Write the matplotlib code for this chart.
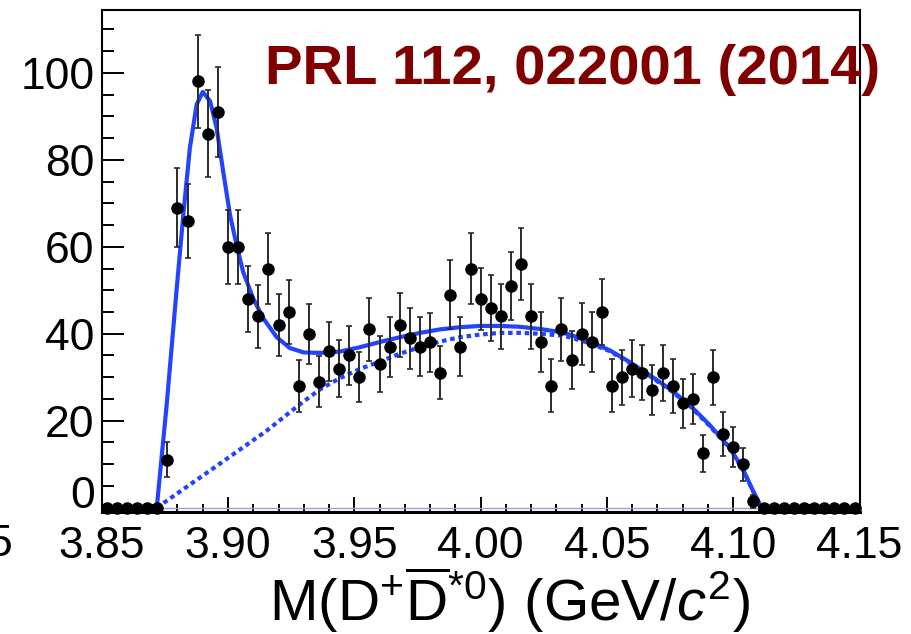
"""M(D+ D*0bar) spectrum with fit, PRL 112, 022001 (2014)."""
import numpy as np
import matplotlib
matplotlib.use('Agg')
import matplotlib.pyplot as plt
from matplotlib.ticker import MultipleLocator, FuncFormatter

plt.rcParams['font.family'] = 'Liberation Sans'
plt.rcParams['mathtext.fontset'] = 'custom'
plt.rcParams['mathtext.rm'] = 'Liberation Sans'
plt.rcParams['mathtext.it'] = 'Liberation Sans:italic'

# histogram: 75 bins of 4 MeV between 3.85 and 4.15 GeV
BIN_EDGES = np.linspace(3.85, 4.15, 76)

COUNTS = [0, 0, 0, 0, 0, 0,
          11, 69, 66, 98, 86, 91, 60, 60, 48, 44,
          55, 42, 45, 28, 40, 29, 36, 32, 35, 30,
          41, 33, 37, 42, 39, 37, 38, 31, 49, 37,
          55, 48, 46, 44, 51, 56, 44, 38, 28, 41,
          34, 40, 38, 45, 28, 30, 32, 31, 27, 31,
          28, 24, 25, 12.5, 30, 17, 14, 10, 1.5,
          0, 0, 0, 0, 0, 0, 0, 0, 0, 0]

ERRORS = [0, 0, 0, 0, 0, 0,
          4.0, 9.0, 8.5, 10.7, 10.0, 10.3, 8.5, 8.5, 7.5, 7.3,
          8.1, 7.1, 7.4, 6.0, 6.9, 5.8, 6.8, 6.5, 6.7, 5.8,
          7.2, 6.5, 6.9, 7.4, 7.0, 6.8, 6.7, 6.1, 7.9, 6.8,
          8.2, 7.1, 7.6, 7.4, 7.8, 8.3, 7.4, 6.9, 6.1, 7.2,
          6.6, 7.1, 6.9, 7.6, 6.1, 6.3, 6.5, 6.3, 5.7, 6.5,
          6.2, 5.6, 5.8, 4.2, 6.3, 5.1, 4.6, 3.8, 1.5,
          0, 0, 0, 0, 0, 0, 0, 0, 0, 0]

# total fit (solid)
FIT_X = [3.8718, 3.8757, 3.8797, 3.8823, 3.8849, 3.8876, 3.8900, 3.8929,
         3.8955, 3.8981, 3.9008, 3.9034, 3.9060, 3.9100, 3.9140, 3.9193,
         3.9245, 3.9300, 3.9364, 3.9443, 3.9522, 3.9601, 3.9680, 3.9760,
         3.9839, 3.9918, 3.9997, 4.0076, 4.0155, 4.0235, 4.0314, 4.0353,
         4.0432, 4.0511, 4.0590, 4.0669, 4.0749, 4.0828, 4.0907, 4.0986,
         4.1039, 4.1079, 4.1112]
FIT_Y = [0.0, 23.5, 50.4, 67.3, 82.7, 92.7, 95.6, 93.5,
         87.3, 77.3, 67.3, 60.4, 54.2, 48.1, 43.5, 39.2,
         36.7, 35.7, 35.6, 35.9, 36.9, 38.1, 39.2, 40.2,
         41.0, 41.5, 41.8, 41.8, 41.6, 41.1, 40.4, 39.8,
         38.2, 36.2, 33.5, 30.5, 27.3, 23.6, 19.0, 13.8,
         8.8, 3.8, 0.0]

# background (dotted)
BKG_X = [3.8718, 3.8955, 3.9153, 3.9285, 3.9364, 3.9443, 3.9522, 3.9601,
         3.9680, 3.9760, 3.9839, 3.9918, 3.9997, 4.0076, 4.0155, 4.0235,
         4.0314, 4.0353, 4.0432, 4.0511, 4.0590, 4.0669, 4.0749, 4.0828,
         4.0907, 4.0986, 4.1039, 4.1079, 4.1112]
BKG_Y = [0.0, 9.6, 17.7, 23.8, 27.2, 29.8, 31.9, 33.6,
         35.4, 36.9, 38.2, 39.2, 39.8, 40.2, 40.2, 40.0,
         39.6, 39.2, 37.8, 36.0, 33.3, 30.3, 27.1, 23.4,
         18.8, 13.6, 8.6, 3.7, 0.0]

BLUE = '#2244ff'

fig = plt.figure(figsize=(9.12, 6.34), dpi=100)
ax = fig.add_axes([0.1115, 0.193, 0.831, 0.791])

centers = (BIN_EDGES[:-1] + BIN_EDGES[1:]) / 2

ax.plot([FIT_X[0], FIT_X[-1]], [0, 0], color='#9a9aff', lw=1.0, zorder=2)
ax.plot(BKG_X, BKG_Y, color=BLUE, lw=3.0, linestyle=(0, (1.1, 0.9)), zorder=2)
ax.plot(FIT_X, FIT_Y, color=BLUE, lw=3.0, zorder=2)
ax.errorbar(centers, COUNTS, yerr=ERRORS, fmt='o', color='black', ms=8,
            ecolor='#2a2a2a', elinewidth=1.4, capsize=2.2, capthick=1.2,
            zorder=3, clip_on=False)

ax.set_xlim(3.85, 4.15)
ax.set_ylim(-0.9, 114.4)

ax.xaxis.set_major_locator(MultipleLocator(0.05))
ax.xaxis.set_minor_locator(MultipleLocator(0.01))
ax.xaxis.set_major_formatter(FuncFormatter(lambda v, p: '%.2f' % v))
ax.yaxis.set_major_locator(MultipleLocator(20))
ax.yaxis.set_minor_locator(MultipleLocator(5))
# ROOT lifts the "0" label; drawn separately below
ax.yaxis.set_major_formatter(FuncFormatter(lambda v, p: '' if abs(v) < 1e-9 else '%d' % v))

ax.tick_params(axis='both', which='both', direction='in', top=False, right=False,
               width=1.4, labelsize=32)
ax.tick_params(axis='x', which='major', length=11, pad=10)
ax.tick_params(axis='x', which='minor', length=5.5)
ax.tick_params(axis='y', which='major', length=15.5, pad=5)
ax.tick_params(axis='y', which='minor', length=8.5)

ax.annotate('0', xy=(0, 0), xycoords=('axes fraction', 'data'), xytext=(-4.5, 8),
            textcoords='offset points', ha='right', va='center', fontsize=32)

for side in ['top', 'right', 'left']:
    ax.spines[side].set_linewidth(1.5)
ax.spines['bottom'].set_linewidth(2.2)

ax.set_xlabel(r'M(D$^{+}\overline{\rm D}^{*0}$) (GeV/$c^{2}$)', fontsize=42)
ax.xaxis.set_label_coords(0.5375, -0.105)

fig.text(265 / 912, 1 - 84 / 634, 'PRL 112, 022001 (2014)', color='#800000',
         fontsize=40.5, fontweight='bold', va='baseline', ha='left')

# sliver of the neighbouring panel's tick label
fig.text(12 / 912, 1 - 545 / 634, '5', fontsize=32, ha='right', va='center')

fig.savefig('out.png', dpi=100)
